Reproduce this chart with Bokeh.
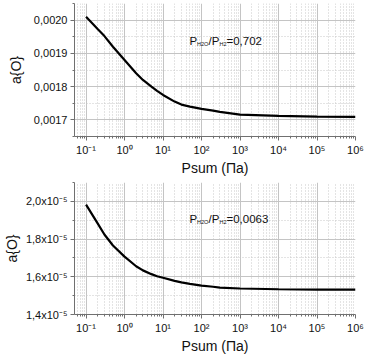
from bokeh.plotting import figure
from bokeh.layouts import column
from bokeh.models import FixedTicker, Label, Range1d
from bokeh.embed import file_html
from bokeh.resources import INLINE

# ---- data ----
psum = [0.1, 0.2, 0.3, 0.5, 1, 2, 3, 5, 7, 10, 20, 30, 50, 100, 200, 300, 1000, 1e4, 1e5, 1e6]
a_o_0702 = [0.002010, 0.001973, 0.001952, 0.001920, 0.001880, 0.001840, 0.001820, 0.001800,
            0.001787, 0.001775, 0.001755, 0.001746, 0.001740, 0.001733, 0.001728, 0.001724,
            0.001716, 0.001712, 0.001710, 0.001709]
a_o_00063 = [1.983e-5, 1.883e-5, 1.824e-5, 1.766e-5, 1.707e-5, 1.656e-5, 1.634e-5, 1.614e-5,
             1.603e-5, 1.595e-5, 1.578e-5, 1.570e-5, 1.562e-5, 1.553e-5, 1.547e-5, 1.543e-5,
             1.538e-5, 1.534e-5, 1.532e-5, 1.532e-5]

x_ticks = [1e-1, 1e0, 1e1, 1e2, 1e3, 1e4, 1e5, 1e6]
x_tick_labels = ["10\u207b\u00b9", "10\u2070", "10\u00b9", "10\u00b2", "10\u00b3", "10\u2074", "10\u2075", "10\u2076"]
x_minor = [m * 10.0 ** e for e in range(-2, 6) for m in range(2, 10)]

y1_ticks = [0.0017, 0.0018, 0.0019, 0.0020]
y1_labels = ["0,0017", "0,0018", "0,0019", "0,0020"]
y1_minor = [0.00165, 0.00175, 0.00185, 0.00195, 0.00205]

y2_ticks = [1.4e-5, 1.6e-5, 1.8e-5, 2.0e-5]
y2_labels = ["1,4x10\u207b\u2075", "1,6x10\u207b\u2075", "1,8x10\u207b\u2075", "2,0x10\u207b\u2075"]
y2_minor = [1.5e-5, 1.7e-5, 1.9e-5, 2.1e-5]

ann1 = ["P", "H2O", "/P", "H2", "=0,702"]
ann2 = ["P", "H2O", "/P", "H2", "=0,0063"]

FONT = "Liberation Sans"


def make_plot(yvals, yr, yt, ylab, ymin, ann, top_b, bot_b, ylab_standoff):
    p = figure(width=366, height=178, x_axis_type="log",
               x_range=Range1d(10 ** -1.3, 1e6), y_range=Range1d(*yr),
               output_backend="svg", toolbar_location=None,
               min_border_left=72, min_border_right=11,
               min_border_top=top_b, min_border_bottom=bot_b)
    p.outline_line_color = None
    p.background_fill_color = "white"
    p.border_fill_color = "white"

    p.xaxis.ticker = FixedTicker(ticks=x_ticks, minor_ticks=x_minor)
    p.xaxis.major_label_overrides = {t: l for t, l in zip(x_ticks, x_tick_labels)}
    p.yaxis.ticker = FixedTicker(ticks=yt, minor_ticks=ymin)
    p.yaxis.major_label_overrides = {t: l for t, l in zip(yt, ylab)}

    for ax in (p.xaxis[0], p.yaxis[0]):
        ax.axis_line_color = "#707070"
        ax.major_tick_line_color = "#707070"
        ax.minor_tick_line_color = "#707070"
        ax.major_tick_out = 4
        ax.major_tick_in = 0
        ax.minor_tick_out = 2
        ax.minor_tick_in = 0
        ax.major_label_text_font = FONT
        ax.major_label_text_font_size = "11px"
        ax.major_label_text_color = "#111111"
        ax.axis_label_text_font = FONT
        ax.axis_label_text_font_size = "14px"
        ax.axis_label_text_font_style = "normal"
        ax.axis_label_text_color = "#111111"
    p.xaxis.major_label_standoff = 3
    p.xaxis.axis_label_standoff = 1
    p.yaxis.major_label_standoff = 3
    p.yaxis.axis_label_standoff = ylab_standoff
    p.xaxis.axis_label = "Psum (\u041f\u0430)"
    p.yaxis.axis_label = "a{O}"

    for g in (p.xgrid[0], p.ygrid[0]):
        g.grid_line_color = "#c4c4c4"
        g.grid_line_width = 1
        g.minor_grid_line_color = "#c8c8c8"
        g.minor_grid_line_dash = "1 2"

    p.line(psum, yvals, line_color="black", line_width=2.2)

    # annotation P_H2O/P_H2=...
    xs = [115, 122.5, 134, 145, 152]
    big = [True, False, True, False, True]
    for txt, sx, b in zip(ann, xs, big):
        p.add_layout(Label(x=sx, y=96 if b else 93, x_units="screen", y_units="screen",
                           text=txt, text_font=FONT,
                           text_font_size="11.5px" if b else "5.5px",
                           text_color="#111111", text_baseline="alphabetic"))
    return p


p1 = make_plot(a_o_0702, (0.00165, 0.00205), y1_ticks, y1_labels, y1_minor, ann1, 3, 42, 7)
p2 = make_plot(a_o_00063, (1.4e-5, 2.1e-5), y2_ticks, y2_labels, y2_minor, ann2, 4, 41, 3)

layout = column(p1, p2, spacing=0)
open("out.html", "w").write(file_html(layout, INLINE))
